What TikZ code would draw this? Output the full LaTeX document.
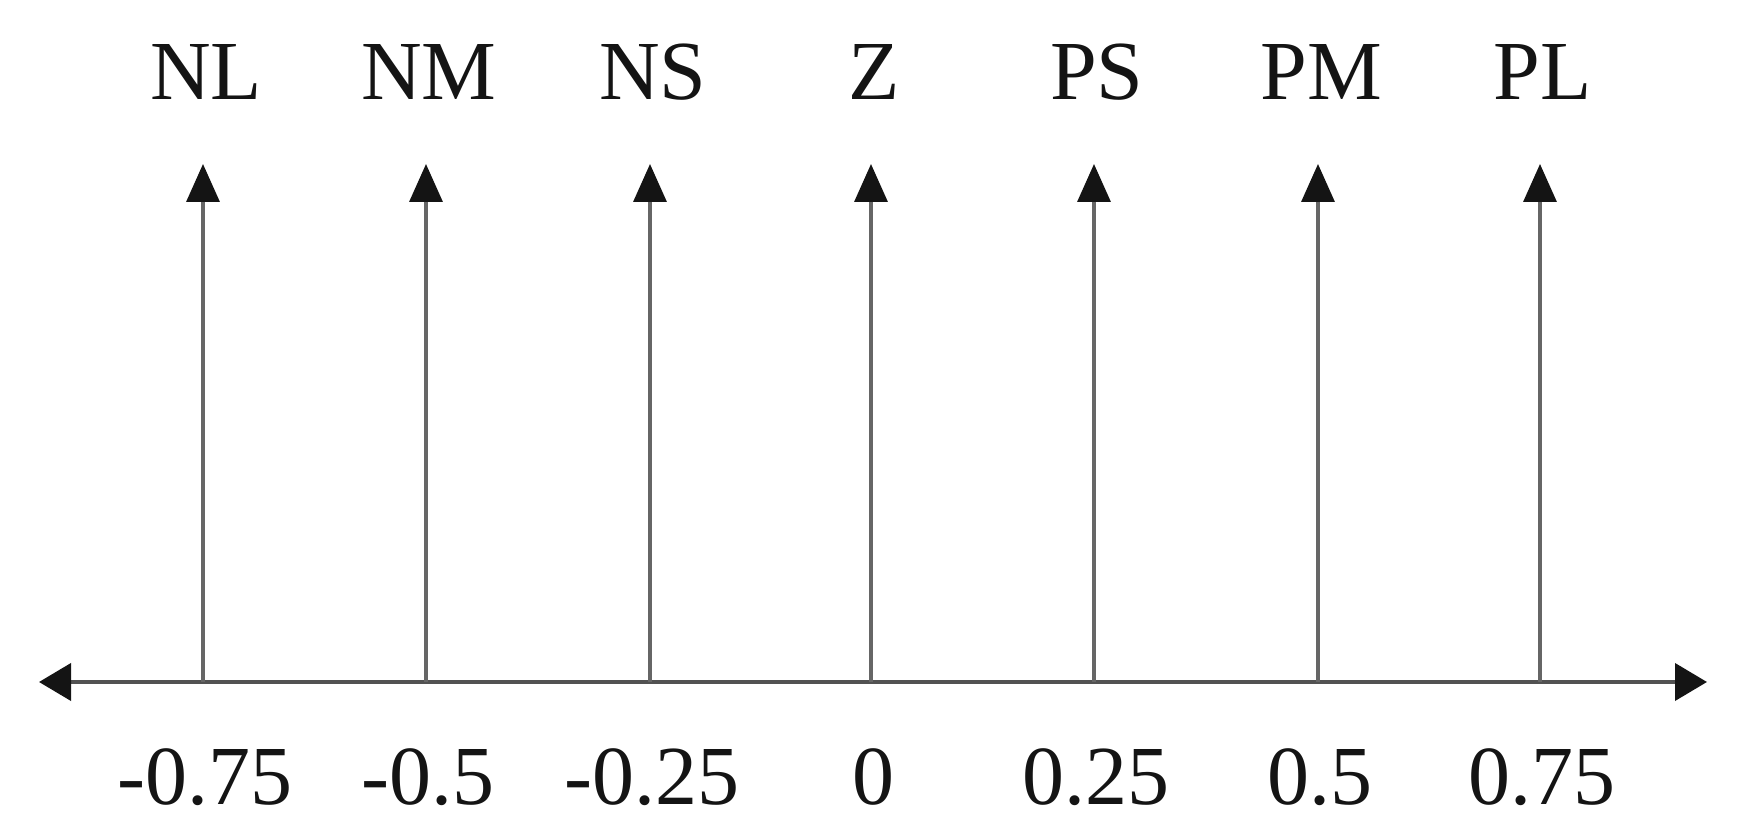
\documentclass[tikz,border=0pt]{standalone}
\usepackage{fontspec}
\setmainfont{Liberation Serif}
\usetikzlibrary{arrows.meta}
\begin{document}
\begin{tikzpicture}[x=0.5pt,y=-0.5pt,
  lbl/.style={font=\fontsize{42pt}{50pt}\selectfont, anchor=base, inner sep=0pt, text=black!92},
  axisline/.style={line width=2pt, draw=black!68, {Triangle[length=16pt,width=18.5pt,color=black!92]}-{Triangle[length=16pt,width=18.5pt,color=black!92]}},
  spike/.style={line width=1.7pt, draw=black!60, -{Triangle[length=19pt,width=16.5pt,color=black!92]}}]
\useasboundingbox (0,0) rectangle (1737,838);
\coordinate (L) at (39,682);
\coordinate (R) at (1707,682);
\draw[axisline] (L) -- (R);
\foreach \x/\top/\bot/\n [count=\i] in {203/NL/-0.75/a,426/NM/-0.5/b,650/NS/-0.25/c,871/Z/0/d,1094/PS/0.25/e,1318/PM/0.5/f,1540/PL/0.75/g}{
  \coordinate (base\n) at (\x,682);
  \coordinate (tip\n) at (\x,164);
  \draw[spike] (base\n) -- (tip\n);
  \node[lbl] (top\n) at (\x+3,100) {\top};
  \node[lbl] (bot\n) at (\x+2,805) {\bot};
}
\end{tikzpicture}
\end{document}
